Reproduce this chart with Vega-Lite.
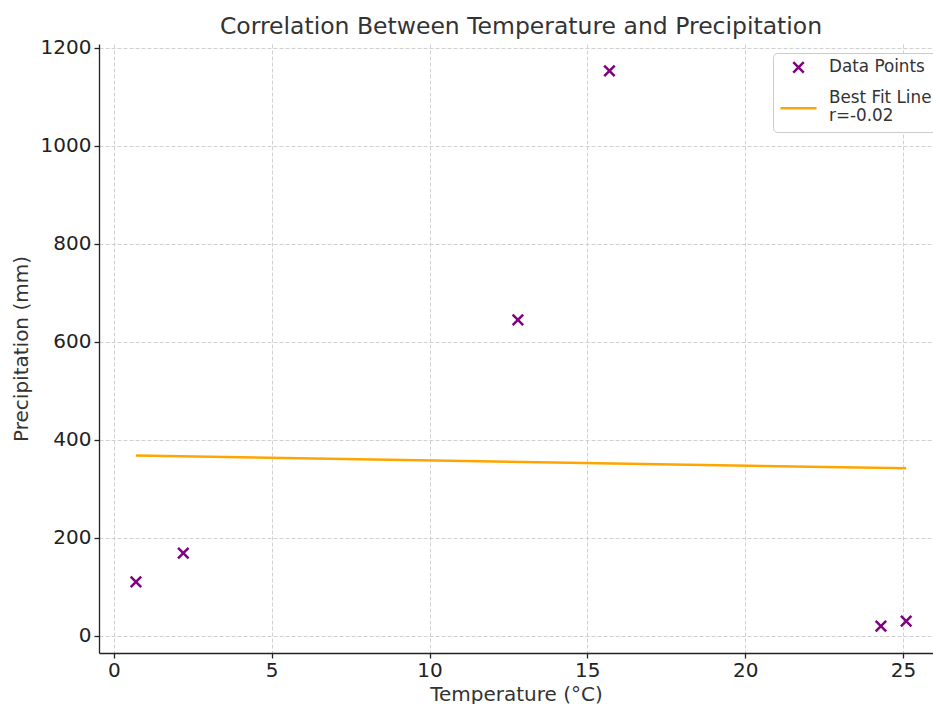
{
  "$schema": "https://vega.github.io/schema/vega-lite/v6.json",
  "width": 834,
  "height": 609,
  "autosize": "none",
  "padding": {"left": 99, "top": 44, "right": 0, "bottom": 51},
  "background": "white",
  "config": {
    "view": {"stroke": null},
    "font": "DejaVu Sans",
    "axis": {
      "labelFont": "DejaVu Sans",
      "titleFont": "DejaVu Sans",
      "labelFontSize": 20,
      "titleFontSize": 20,
      "labelColor": "#222222",
      "titleColor": "#333333",
      "titleFontWeight": "normal",
      "domainColor": "#222222",
      "domainWidth": 1.3,
      "tickColor": "#222222",
      "tickWidth": 1.3,
      "tickSize": 5,
      "gridColor": "#cccccc",
      "gridDash": [4, 2],
      "gridWidth": 0.9
    }
  },
  "title": {
    "text": "Correlation Between Temperature and Precipitation",
    "font": "DejaVu Sans",
    "fontSize": 23.5,
    "fontWeight": "normal",
    "color": "#333333",
    "anchor": "middle",
    "dx": 5,
    "offset": -1
  },
  "layer": [
    {
      "data": {
        "values": [
          {"temp": 0.7, "precip": 110, "series": "Data Points"},
          {"temp": 2.2, "precip": 169, "series": "Data Points"},
          {"temp": 12.8, "precip": 645, "series": "Data Points"},
          {"temp": 15.7, "precip": 1153, "series": "Data Points"},
          {"temp": 24.3, "precip": 20, "series": "Data Points"},
          {"temp": 25.1, "precip": 30, "series": "Data Points"}
        ]
      },
      "mark": {"type": "point", "strokeWidth": 2.5, "filled": false, "opacity": 1},
      "encoding": {
        "x": {
          "field": "temp", "type": "quantitative",
          "scale": {"domain": [-0.47, 25.95], "nice": false, "zero": false},
          "axis": {"title": "Temperature (°C)", "values": [0, 5, 10, 15, 20, 25], "labelPadding": 2, "titlePadding": 4}
        },
        "y": {
          "field": "precip", "type": "quantitative",
          "scale": {"domain": [-35, 1208], "nice": false, "zero": false},
          "axis": {"title": "Precipitation (mm)", "format": "d", "values": [0, 200, 400, 600, 800, 1000, 1200], "labelPadding": 3, "titlePadding": 9}
        },
        "shape": {
          "field": "series", "type": "nominal",
          "scale": {"domain": ["Data Points", "Best Fit Line"], "range": ["M-1,-1L1,1M-1,1L1,-1", "M-1,0.6L1,0.6"]}
        },
        "size": {
          "field": "series", "type": "nominal",
          "scale": {"domain": ["Data Points", "Best Fit Line"], "range": [110, 1300]}
        },
        "color": {
          "field": "series", "type": "nominal",
          "scale": {"domain": ["Data Points", "Best Fit Line"], "range": ["#800080", "#FFA500"]},
          "legend": {
            "title": null,
            "orient": "none",
            "legendX": 674,
            "legendY": 9,
            "padding": 6,
            "strokeColor": "#cccccc",
            "fillColor": "white",
            "cornerRadius": 4,
            "labelFont": "DejaVu Sans",
            "labelFontSize": 16.8,
            "labelColor": "#333333",
            "labelOffset": 11,
            "labelLimit": 400,
            "rowPadding": -12,
            "symbolStrokeWidth": 2.5,
            "labelExpr": "datum.value == 'Best Fit Line' ? ['Best Fit Line', 'r=-0.02'] : datum.label"
          }
        }
      }
    },
    {
      "data": {
        "values": [
          {"temp": 0.7, "fit": 368, "series": "Best Fit Line"},
          {"temp": 25.1, "fit": 342, "series": "Best Fit Line"}
        ]
      },
      "mark": {"type": "line", "strokeWidth": 2.5},
      "encoding": {
        "x": {"field": "temp", "type": "quantitative"},
        "y": {"field": "fit", "type": "quantitative"},
        "color": {"field": "series", "type": "nominal"}
      }
    }
  ]
}
